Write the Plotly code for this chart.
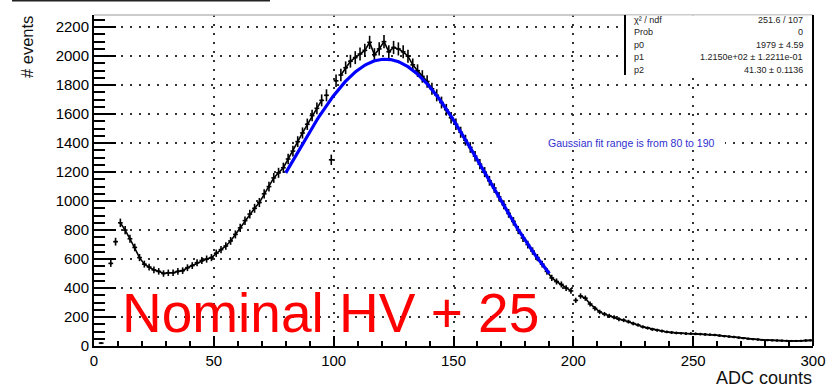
import numpy as np
import plotly.graph_objects as go

# Histogram: ADC counts, 2-count wide bins centred on odd values 3..299
bin_centers = list(range(3, 300, 2))
counts = [
    20, None, 570, 720, 850, 800, 740, 680, 610, 565,
    545, 525, 515, 500, 505, 505, 515, 520, 540, 555,
    575, 590, 600, 610, 640, 665, 690, 725, 770, 815,
    865, 910, 950, 990, 1050, 1100, 1160, 1195, 1230, 1290,
    1345, 1410, 1470, 1530, 1590, 1640, 1695, 1730, 1285, 1830,
    1870, 1920, 1965, 1990, 2015, 2040, 2095, 2010, 2050, 2100,
    2030, 2060, 2050, 2030, 2000, 1940, 1900, 1860, 1825, 1775,
    1730, 1680, 1630, 1575, 1530, 1475, 1420, 1370, 1310, 1255,
    1200, 1140, 1090, 1030, 975, 915, 860, 800, 745, 700,
    655, 610, 565, 515, 470, 445, 425, 400, 380, 315,
    345, 330, 290, 260, 235, 220, 208, 198, 185, 178,
    168, 155, 145, 132, 124, 115, 109, 103, 97, 93,
    90, 88, 86, 85, 84, 82, 80, 78, 76, 72,
    68, 65, 62, 58, 54, 50, 47, 45, 42, 40,
    39, 38, 37, 36, 35, 35, 36, 38, 39,
]

# Gaussian fit parameters (constant, mean, sigma) and fit range
p0, p1, p2 = 1979.0, 121.5, 41.3
fit_lo, fit_hi = 80, 190

stats_rows = [
    ("χ² / ndf", "251.6 / 107"),
    ("Prob", "0"),
    ("p0", "1979 ± 4.59"),
    ("p1", "1.2150e+02 ± 1.2211e-01"),
    ("p2", "41.30 ± 0.1136"),
]

X_RANGE = [0, 300]
Y_RANGE = [0, 2284]

# Frame geometry in pixels
W, H = 827, 387
L, R, T, B = 94, 813, 15, 346


def px(xp):
    return (xp - L) / (R - L)


def py(yp):
    return (B - yp) / (B - T)


err = [None if c is None else float(np.sqrt(c)) for c in counts]

# connecting line through the bins, broken at isolated outlier bins
line_y = []
for i, c in enumerate(counts):
    if c is None or bin_centers[i] < 11:
        line_y.append(None)
        continue
    prev_c = counts[i - 1] if i > 0 else None
    next_c = counts[i + 1] if i + 1 < len(counts) else None
    if prev_c is not None and next_c is not None and bin_centers[i - 1] >= 11:
        if abs(c - 0.5 * (prev_c + next_c)) > 2.5 * np.sqrt(c):
            line_y.append(None)
            continue
    line_y.append(c)

fig = go.Figure()

fig.add_trace(go.Scatter(
    x=bin_centers, y=line_y, mode="lines", connectgaps=False,
    line=dict(color="black", width=1.6),
    showlegend=False, hoverinfo="skip",
))
fig.add_trace(go.Scatter(
    x=bin_centers, y=counts, mode="markers",
    marker=dict(size=2, color="black", symbol="square"),
    error_x=dict(type="constant", value=1, thickness=1.6, width=0, color="black"),
    error_y=dict(type="data", array=err, thickness=1.6, width=0, color="black"),
    showlegend=False, hoverinfo="skip",
))

xf = np.linspace(fit_lo, fit_hi, 300)
yf = p0 * np.exp(-0.5 * ((xf - p1) / p2) ** 2)
fig.add_trace(go.Scatter(
    x=xf, y=yf, mode="lines", line=dict(color="#0000ff", width=3.2),
    showlegend=False, hoverinfo="skip",
))

tick_font = dict(family="Liberation Sans", size=15, color="#000")
grid_dash = "2px,7px"

fig.update_layout(
    template="none",
    xaxis=dict(
        range=X_RANGE, tickmode="linear", tick0=0, dtick=50,
        ticks="inside", ticklen=10, tickwidth=1.5, tickcolor="black",
        minor=dict(dtick=10, tick0=0, ticks="inside", ticklen=5, tickwidth=1.5,
                   tickcolor="black", showgrid=False),
        showline=True, linecolor="black", linewidth=2,
        showgrid=True, gridcolor="#333", gridwidth=1.5, griddash=grid_dash,
        zeroline=False, automargin=False, tickfont=tick_font,
    ),
    yaxis=dict(
        range=Y_RANGE, tickmode="linear", tick0=0, dtick=200,
        ticks="inside", ticklen=22, tickwidth=1.5, tickcolor="black",
        minor=dict(dtick=50, tick0=0, ticks="inside", ticklen=11, tickwidth=1.5,
                   tickcolor="black", showgrid=False),
        showline=True, linecolor="black", linewidth=2,
        showgrid=True, gridcolor="#333", gridwidth=1.5, griddash=grid_dash,
        zeroline=False, automargin=False, tickfont=tick_font,
    ),
)

shapes = [
    # top and right edges of the frame
    dict(type="line", xref="paper", yref="paper", x0=0, x1=1, y0=1, y1=1,
         line=dict(color="#bbbbbb", width=1.5)),
    dict(type="line", xref="paper", yref="paper", x0=1, x1=1, y0=0, y1=1,
         line=dict(color="black", width=2)),
    # stats box
    dict(type="rect", xref="paper", yref="paper", x0=px(625), x1=px(812), y0=py(75), y1=py(15.5),
         fillcolor="white", line=dict(width=0), layer="above"),
    dict(type="line", xref="paper", yref="paper", x0=px(625), x1=px(625), y0=py(75), y1=py(15),
         line=dict(color="black", width=2), layer="above"),
    # blank pad behind the fit-range note
    dict(type="rect", xref="paper", yref="paper", x0=px(497), x1=px(725), y0=py(150), y1=py(136),
         fillcolor="white", line=dict(width=0), layer="above"),
    # line at the top of the canvas
    dict(type="line", xref="paper", yref="paper", x0=px(12), x1=px(270), y0=py(0.8), y1=py(0.8),
         line=dict(color="#222", width=1.6)),
]

annotations = [
    dict(text="Nominal HV + 25", xref="paper", yref="paper", x=px(120), y=py(313),
         xanchor="left", yanchor="middle", showarrow=False,
         font=dict(family="Liberation Sans", size=55, color="#ff0000")),
    dict(text="Gaussian fit range is from 80 to 190", xref="paper", yref="paper",
         x=px(546), y=py(143), xanchor="left", yanchor="middle", showarrow=False,
         font=dict(family="Liberation Sans", size=10.5, color="#3030d0")),
    dict(text="ADC counts", xref="paper", yref="paper", x=px(814), y=py(378),
         xanchor="right", yanchor="middle", showarrow=False,
         font=dict(family="Liberation Sans", size=18, color="#111")),
    dict(text="# events", xref="paper", yref="paper", x=px(27), y=py(14),
         xanchor="center", yanchor="top", textangle=-90, showarrow=False,
         font=dict(family="Liberation Sans", size=16.5, color="#111")),
]

row_y = [20, 32.5, 45, 57.5, 70]
for (lab, val), yy in zip(stats_rows, row_y):
    annotations.append(dict(text=lab, xref="paper", yref="paper", x=px(632), y=py(yy),
                            xanchor="left", yanchor="middle", showarrow=False,
                            font=dict(family="Liberation Sans", size=9, color="#222")))
    annotations.append(dict(text=val, xref="paper", yref="paper", x=px(805), y=py(yy),
                            xanchor="right", yanchor="middle", showarrow=False,
                            font=dict(family="Liberation Sans", size=9, color="#222")))

fig.update_layout(
    width=W, height=H,
    margin=dict(l=L, r=W - R, t=T, b=H - B, autoexpand=False),
    paper_bgcolor="white", plot_bgcolor="white",
    shapes=shapes, annotations=annotations,
    showlegend=False,
)

fig.write_html("out.html")
